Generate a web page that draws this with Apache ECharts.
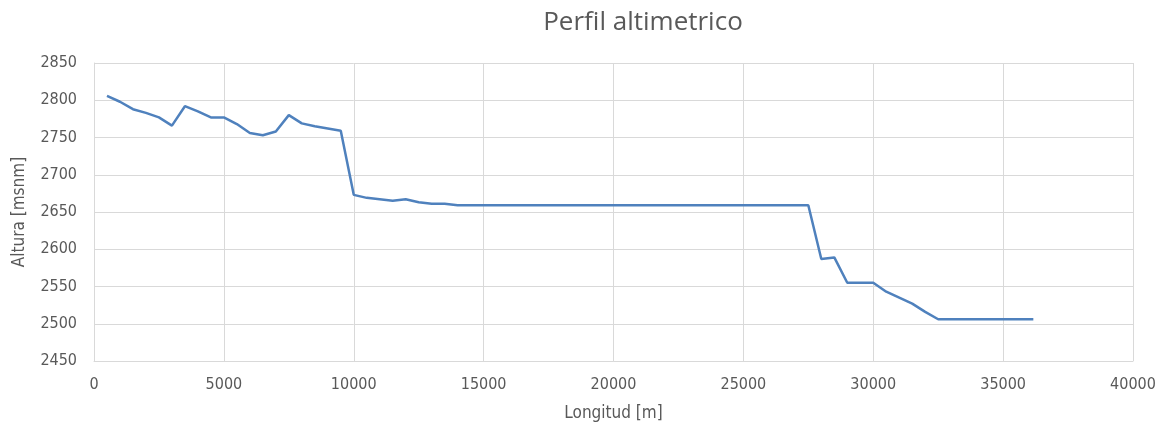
<!DOCTYPE html>
<html><head><meta charset="utf-8">
<script src="https://cdn.jsdelivr.net/npm/echarts@6/dist/echarts.min.js"></script>
<style>html,body{margin:0;padding:0;background:#fff}#c{width:1161px;height:429px}</style>
</head><body><div id="c"></div>
<script>
const distances = [500,1000,1500,2000,2500,3000,3500,4000,4500,5000,5500,6000,6500,7000,7500,8000,8500,9000,9500,
  10000,10500,11000,11500,12000,12500,13000,13500,14000,14500,15000,15500,16000,16500,17000,17500,18000,18500,19000,19500,
  20000,20500,21000,21500,22000,22500,23000,23500,24000,24500,25000,25500,26000,26500,27000,27500,
  28000,28500,29000,29500,30000,30500,31000,31500,32000,32500,33000,33500,34000,34500,35000,35500,36163];
const elevations = [2806,2798,2788,2783,2777,2766,2792,2785,2777,2777,2768,2756,2753,2758,2780,2769,2765,2762,2759,
  2673,2669,2667,2665,2667,2663,2661,2661,2659,2659,2659,2659,2659,2659,2659,2659,2659,2659,2659,2659,
  2659,2659,2659,2659,2659,2659,2659,2659,2659,2659,2659,2659,2659,2659,2659,2659,
  2587,2589,2555,2555,2555,2543,2535,2527,2516,2506,2506,2506,2506,2506,2506,2506,2506];
const xTicks = [0,40000,5000];
const yTicks = [2450,2850,50];
const font = '"DejaVu Sans Condensed","Open Sans",sans-serif';
const chart = echarts.init(document.getElementById('c'));
chart.setOption({
  animation:false,
  title:{text:'Perfil altimetrico',left:638,top:5,textAlign:'center',
    textStyle:{fontFamily:'"Open Sans",sans-serif',fontWeight:'normal',fontSize:26,color:'#595959'}},
  grid:{left:94,right:28,top:63,bottom:68},
  xAxis:{type:'value',min:xTicks[0],max:xTicks[1],interval:xTicks[2],
    name:'Longitud [m]',nameLocation:'middle',nameGap:44,
    nameTextStyle:{fontFamily:font,fontSize:17,color:'#595959'},
    axisLine:{show:true,lineStyle:{color:'#d9d9d9'}},axisTick:{show:false},
    axisLabel:{fontFamily:font,fontSize:16,color:'#595959',margin:16,formatter:v=>String(v)},
    splitLine:{show:true,lineStyle:{color:'#d9d9d9'}}},
  yAxis:{type:'value',min:yTicks[0],max:yTicks[1],interval:yTicks[2],
    name:'Altura [msnm]',nameLocation:'middle',nameGap:66,nameRotate:90,
    nameTextStyle:{fontFamily:font,fontSize:17,color:'#595959'},
    axisLine:{show:true,lineStyle:{color:'#d9d9d9'}},axisTick:{show:false},
    axisLabel:{fontFamily:font,fontSize:16,color:'#595959',margin:17,formatter:v=>String(v)},
    splitLine:{show:true,lineStyle:{color:'#d9d9d9'}}},
  series:[{type:'line',data:distances.map((d,i)=>[d,elevations[i]]),showSymbol:false,
    lineStyle:{color:'#4f81bd',width:2.5}}]
});
</script></body></html>
